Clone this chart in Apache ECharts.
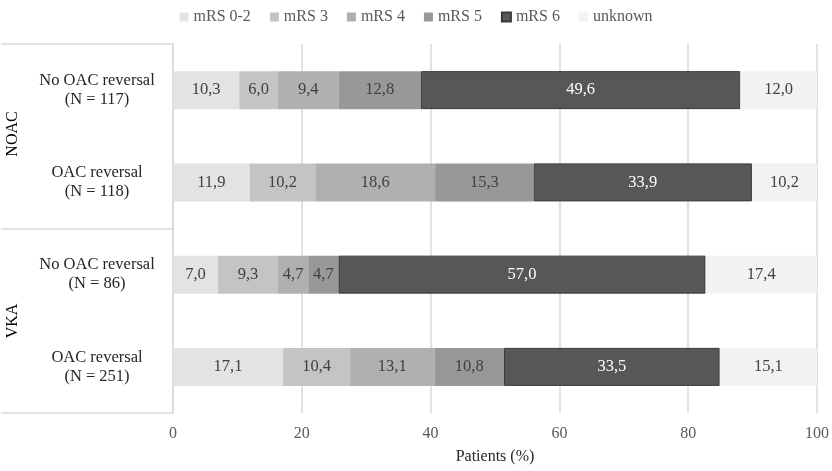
<!DOCTYPE html>
<html>
<head>
<meta charset="utf-8">
<script src="https://cdn.jsdelivr.net/npm/echarts@6/dist/echarts.min.js"></script>
<style>
  html, body { margin: 0; padding: 0; background: #fff; }
  #main { width: 832px; height: 471px; }
</style>
</head>
<body>
<div id="main"></div>
<script>
// 类目（从上到下）
var categories = ['No OAC reversal\n(N = 117)', 'OAC reversal\n(N = 118)', 'No OAC reversal\n(N = 86)', 'OAC reversal\n(N = 251)'];
var groups = ['NOAC', 'VKA'];
var xTicks = [0, 20, 40, 60, 80, 100];

// 各 mRS 的百分比
var mrs02 = [10.3, 11.9, 7.0, 17.1];
var mrs3 = [6.0, 10.2, 9.3, 10.4];
var mrs4 = [9.4, 18.6, 4.7, 13.1];
var mrs5 = [12.8, 15.3, 4.7, 10.8];
var mrs6 = [49.6, 33.9, 57.0, 33.5];
var unknown = [12.0, 10.2, 17.4, 15.1];

var font = 'Liberation Serif';

function seg(name, data, color, labelColor, border) {
    return {
        name: name,
        type: 'bar',
        stack: 'total',
        barWidth: 38,
        data: data,
        itemStyle: {
            color: color,
            borderColor: border || color,
            borderWidth: border ? 1 : 0
        },
        label: {
            show: true,
            position: 'inside',
            fontFamily: font,
            fontSize: 16.5,
            color: labelColor,
            formatter: function (p) {
                return p.value.toFixed(1).replace('.', ',');
            }
        },
        emphasis: { disabled: true }
    };
}

var myChart = echarts.init(document.getElementById('main'));
var option = {
    animation: false,
    textStyle: { fontFamily: font },
    legend: {
        top: 4,
        left: 'center',
        itemWidth: 9,
        itemHeight: 9,
        itemGap: 19,
        icon: 'rect',
        textStyle: { fontFamily: font, fontSize: 16, color: '#595959' },
        data: ['mRS 0-2', 'mRS 3', 'mRS 4', 'mRS 5', 'mRS 6', 'unknown']
    },
    grid: { left: 173, right: 14, top: 44, bottom: 58 },
    xAxis: {
        type: 'value',
        min: xTicks[0],
        max: xTicks[xTicks.length - 1],
        interval: 20,
        axisLine: { show: false },
        axisTick: { show: false },
        splitLine: { lineStyle: { color: '#d9d9d9', width: 1.5 } },
        axisLabel: { fontFamily: font, fontSize: 16, color: '#595959', margin: 13 },
        name: 'Patients (%)',
        nameLocation: 'middle',
        nameGap: 36,
        nameTextStyle: { fontFamily: font, fontSize: 16, color: '#262626' }
    },
    yAxis: {
        type: 'category',
        inverse: true,
        data: categories,
        axisLine: { show: true, lineStyle: { color: '#d9d9d9', width: 1.5 } },
        axisTick: { show: false },
        axisLabel: {
            align: 'center',
            margin: 76,
            fontFamily: font,
            fontSize: 16.5,
            lineHeight: 19,
            color: '#262626'
        }
    },
    graphic: [
        { type: 'line', shape: { x1: 1, y1: 44, x2: 173, y2: 44 }, style: { stroke: '#d9d9d9', lineWidth: 1.5 } },
        { type: 'line', shape: { x1: 1, y1: 229, x2: 173, y2: 229 }, style: { stroke: '#d9d9d9', lineWidth: 1.5 } },
        { type: 'line', shape: { x1: 1, y1: 413, x2: 173, y2: 413 }, style: { stroke: '#d9d9d9', lineWidth: 1.5 } },
        { type: 'text', x: 13, y: 134, rotation: Math.PI / 2,
          style: { text: groups[0], font: '16px ' + font, fill: '#000', textAlign: 'center', textVerticalAlign: 'middle' } },
        { type: 'text', x: 13, y: 321, rotation: Math.PI / 2,
          style: { text: groups[1], font: '16px ' + font, fill: '#000', textAlign: 'center', textVerticalAlign: 'middle' } }
    ],
    series: [
        seg('mRS 0-2', mrs02, '#e3e3e3', '#404040'),
        seg('mRS 3', mrs3, '#c4c4c4', '#404040'),
        seg('mRS 4', mrs4, '#b0b0b0', '#404040'),
        seg('mRS 5', mrs5, '#989898', '#404040'),
        seg('mRS 6', mrs6, '#575757', '#ffffff', '#3a3a3a'),
        seg('unknown', unknown, '#f2f2f2', '#404040')
    ]
};
myChart.setOption(option);
</script>
</body>
</html>
